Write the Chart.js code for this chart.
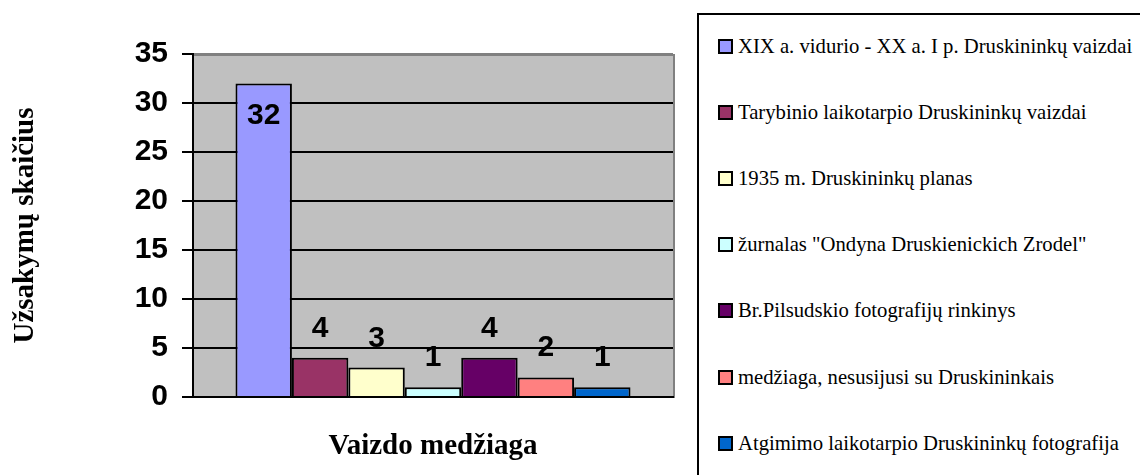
<!DOCTYPE html>
<html>
<head>
<meta charset="utf-8">
<script src="https://cdn.jsdelivr.net/npm/chart.js@4/dist/chart.umd.min.js"></script>
<style>
  body { margin: 0; background: #fff; width: 1140px; height: 475px; overflow: hidden; position: relative; }
  #chartBox { position: absolute; left: 0; top: 0; width: 697px; height: 475px; }
  #legend {
    position: absolute; left: 697px; top: 13px; width: 470px; height: 480px;
    border: 2px solid #000; box-sizing: border-box; overflow: hidden;
  }
  #legend ul { list-style: none; margin: -2px 0 0 0; padding: 0; }
  #legend li {
    height: 66.2px; display: flex; align-items: center; padding-left: 19px;
    font-family: "Liberation Serif", "Times New Roman", serif; font-size: 20.7px; color: #000;
    white-space: nowrap;
  }
  #legend .box { width: 11px; height: 11px; border: 2px solid #000; margin-right: 5px; flex: none; }
</style>
</head>
<body>
<div id="chartBox"><canvas id="vaizdaiChart"></canvas></div>
<div id="legend"></div>
<script>
// duomenys
const seriesLabels = [
    'XIX a. vidurio - XX a. I p. Druskininkų vaizdai',
    'Tarybinio laikotarpio Druskininkų vaizdai',
    '1935 m. Druskininkų planas',
    'žurnalas "Ondyna Druskienickich Zrodel"',
    'Br.Pilsudskio fotografijų rinkinys',
    'medžiaga, nesusijusi su Druskininkais',
    'Atgimimo laikotarpio Druskininkų fotografija'
];
const seriesValues = [32, 4, 3, 1, 4, 2, 1];
const seriesColors = ['#9999FF', '#993366', '#FFFFCC', '#CCFFFF', '#660066', '#FF8080', '#0066CC'];
const yTicks = [0, 5, 10, 15, 20, 25, 30, 35];

// pilkas fonas
const plotBg = {
    id: 'plotBg',
    beforeDraw(chart) {
        const { ctx, chartArea: a } = chart;
        ctx.save();
        ctx.fillStyle = '#C0C0C0';
        ctx.fillRect(a.left, a.top, a.right - a.left, a.bottom - a.top);
        ctx.strokeStyle = '#808080';
        ctx.lineWidth = 2;
        ctx.beginPath();
        ctx.moveTo(a.left, a.top + 1);
        ctx.lineTo(a.right + 1, a.top + 1);
        ctx.lineTo(a.right + 1, a.bottom + 1);
        ctx.stroke();
        ctx.restore();
    }
};

// reikšmės virš stulpelių
const barValues = {
    id: 'barValues',
    afterDatasetsDraw(chart) {
        const { ctx, chartArea: a } = chart;
        ctx.save();
        ctx.font = 'bold 30px "Liberation Sans", Arial, sans-serif';
        ctx.fillStyle = '#000';
        ctx.textAlign = 'center';
        ctx.textBaseline = 'alphabetic';
        chart.data.datasets.forEach((ds, i) => {
            const bar = chart.getDatasetMeta(i).data[0];
            let y = bar.y - 21;
            if (y - 22 < a.top) y = bar.y + 41; // netelpa - dedam vidun
            ctx.fillText(String(ds.data[0]), bar.x, y);
        });
        ctx.restore();
    }
};

const chart = new Chart(document.getElementById('vaizdaiChart'), {
    type: 'bar',
    data: {
        labels: [''],
        datasets: seriesLabels.map((lbl, i) => ({
            label: lbl,
            data: [seriesValues[i]],
            backgroundColor: seriesColors[i],
            borderColor: '#000',
            borderWidth: 2
        }))
    },
    options: {
        responsive: true,
        maintainAspectRatio: false,
        animation: false,
        layout: { padding: { top: 54, right: 24, left: 0, bottom: 0 } },
        categoryPercentage: 0.823,
        barPercentage: 1,
        plugins: {
            legend: { display: false },
            tooltip: { enabled: false }
        },
        scales: {
            x: {
                ticks: { display: false },
                grid: { display: false, drawTicks: false },
                border: { display: true, color: '#000', width: 2 },
                title: {
                    display: true,
                    text: 'Vaizdo medžiaga',
                    color: '#000',
                    font: { family: '"Liberation Serif", "Times New Roman", serif', size: 29, weight: 'bold' },
                    padding: { top: 0, bottom: 11 }
                },
                afterFit(s) { s.height = 78; }
            },
            y: {
                min: 0,
                max: 35,
                afterBuildTicks(s) { s.ticks = yTicks.map(v => ({ value: v })); },
                ticks: {
                    color: '#000',
                    padding: 14,
                    font: { family: '"Liberation Sans", Arial, sans-serif', size: 30, weight: 'bold' }
                },
                grid: {
                    color: c => (c.tick && c.tick.value === 35) ? '#808080' : '#000',
                    tickColor: '#000',
                    lineWidth: 2,
                    tickLength: 11
                },
                border: { display: true, color: '#000', width: 2 },
                title: {
                    display: true,
                    text: 'Užsakymų skaičius',
                    color: '#000',
                    font: { family: '"Liberation Serif", "Times New Roman", serif', size: 29, weight: 'bold' },
                    padding: { top: 8, bottom: 0 }
                },
                afterFit(s) { s.width = 193; }
            }
        }
    },
    plugins: [plotBg, barValues]
});

// legenda is duomenu
const ul = document.createElement('ul');
chart.data.datasets.forEach(ds => {
    const li = document.createElement('li');
    const box = document.createElement('span');
    box.className = 'box';
    box.style.background = ds.backgroundColor;
    li.appendChild(box);
    li.appendChild(document.createTextNode(ds.label));
    ul.appendChild(li);
});
document.getElementById('legend').appendChild(ul);
</script>
</body>
</html>
